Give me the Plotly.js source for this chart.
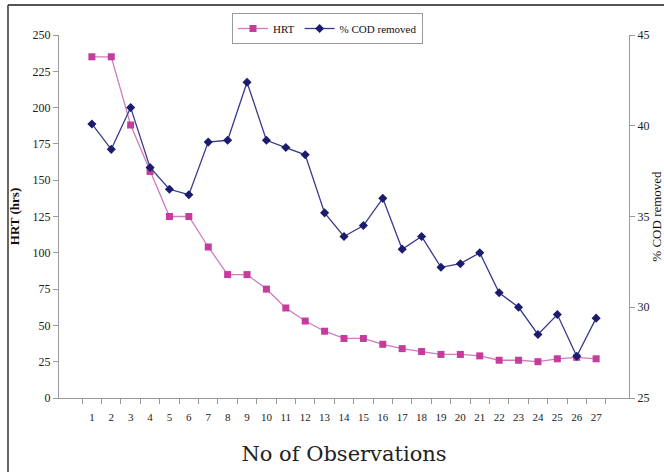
<!DOCTYPE html>
<html>
<head>
<meta charset="utf-8">
<script src="https://cdn.plot.ly/plotly-3.0.1.min.js"></script>
<style>
html,body{margin:0;padding:0;background:#fff;}
#chart{width:664px;height:472px;}
</style>
</head>
<body>
<div id="chart"></div>
<script>
var observations = ["1","2","3","4","5","6","7","8","9","10","11","12","13","14","15","16","17","18","19","20","21","22","23","24","25","26","27"];
var hrt = [235,235,188,156,125,125,104,85,85,75,62,53,46,41,41,37,34,32,30,30,29,26,26,25,27,28,27];
var codRemoved = [40.1,38.7,41.0,37.7,36.5,36.2,39.1,39.2,42.4,39.2,38.8,38.4,35.2,33.9,34.5,36.0,33.2,33.9,32.2,32.4,33.0,30.8,30.0,28.5,29.6,27.3,29.4];
var leftTicks = [0,25,50,75,100,125,150,175,200,225,250];
var rightTicks = [25,30,35,40,45];

var serif = "Liberation Serif";
var traces = [
  {x: observations, y: hrt, name: "HRT", type: "scatter", mode: "lines+markers",
   line: {color: "#D27AC0", width: 1.3}, marker: {symbol: "square", size: 7, color: "#C43C9C"}, yaxis: "y"},
  {x: observations, y: codRemoved, name: "% COD removed", type: "scatter", mode: "lines+markers",
   line: {color: "#3A3A8C", width: 1.3}, marker: {symbol: "diamond", size: 7, color: "#1C1C6E"}, yaxis: "y2"}
];
var layout = {
  width: 664, height: 472,
  margin: {l: 59, r: 35, t: 35, b: 74, autoexpand: false},
  paper_bgcolor: "#fff", plot_bgcolor: "#fff",
  font: {family: serif, color: "#222", size: 12},
  showlegend: true,
  legend: {orientation: "h", x: 0.3035, y: 1.0606, xanchor: "left", yanchor: "top",
    bordercolor: "#999", borderwidth: 1, bgcolor: "#fff",
    font: {family: serif, size: 11, color: "#111"}, itemwidth: 30, tracegroupgap: 0},
  xaxis: {type: "category", tickson: "boundaries", ticks: "outside", ticklen: 5, tickcolor: "#999", tickangle: 0,
    ticklabelstandoff: 9,
    showline: true, linecolor: "#999", linewidth: 1, showgrid: false, zeroline: false,
    tickfont: {family: serif, size: 11, color: "#222"},
    title: {text: "No of Observations", font: {family: "DejaVu Serif", size: 21, color: "#222"}, standoff: 24}},
  yaxis: {range: [0, 250], tickvals: leftTicks, ticks: "outside", ticklen: 5, tickcolor: "#999",
    showline: true, linecolor: "#999", linewidth: 1, showgrid: false, zeroline: false,
    tickfont: {family: serif, size: 12, color: "#222"},
    title: {text: "<b>HRT (hrs)</b>", font: {family: serif, size: 13, color: "#111"}, standoff: 10}},
  yaxis2: {range: [25, 45], tickvals: rightTicks, overlaying: "y", side: "right", ticks: "outside", ticklen: 5, tickcolor: "#999",
    showline: true, linecolor: "#999", linewidth: 1, showgrid: false, zeroline: false,
    tickfont: {family: serif, size: 12, color: "#222"},
    title: {text: "% COD removed", font: {family: serif, size: 13, color: "#111"}, standoff: 23}},
  shapes: [
    {type: "line", xref: "paper", yref: "paper", x0: -0.0895, x1: 1.07, y0: 1.0826, y1: 1.0826, line: {color: "#555", width: 2}},
    {type: "line", xref: "paper", yref: "paper", x0: -0.0895, x1: -0.0895, y0: 1.0826, y1: -0.21, line: {color: "#333", width: 1.5}}
  ]
};
Plotly.newPlot("chart", traces, layout, {displayModeBar: false, responsive: false});
</script>
</body>
</html>
